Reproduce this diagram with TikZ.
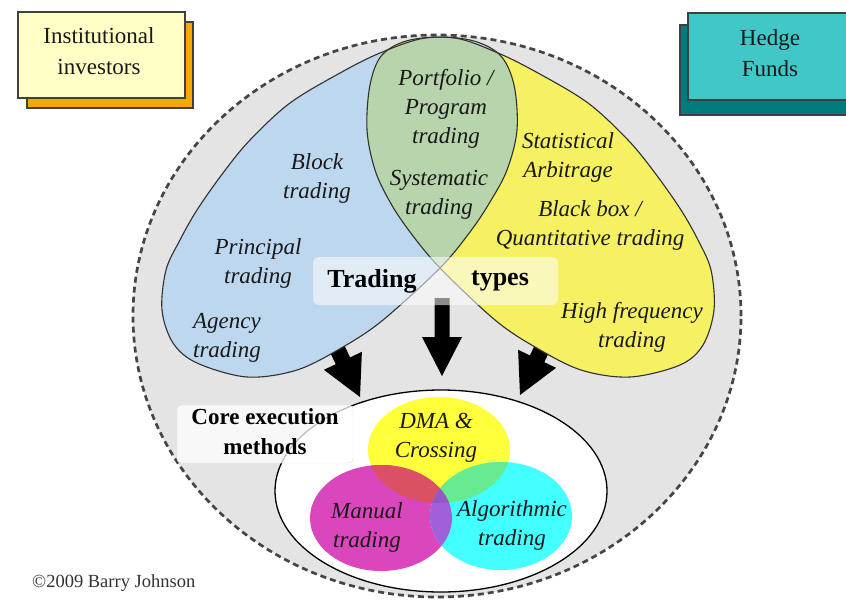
\documentclass[tikz,border=0pt]{standalone}
\usepackage{fontspec}
\setmainfont{Liberation Serif}
\definecolor{outergray}{HTML}{E4E4E4}
\definecolor{dashgray}{HTML}{454545}
\definecolor{lensblue}{HTML}{BDD7EE}
\definecolor{lensyellow}{HTML}{F5F163}
\definecolor{lensgreen}{HTML}{B8D4AC}
\definecolor{edgegray}{HTML}{303030}
\definecolor{instfront}{HTML}{FFFFC6}
\definecolor{instshadow}{HTML}{F5A800}
\definecolor{hedgefront}{HTML}{40C8C8}
\definecolor{hedgeshadow}{HTML}{007C7C}
\definecolor{cY}{HTML}{FFFF3C}
\definecolor{cM}{HTML}{DA46BC}
\definecolor{cC}{HTML}{44FFFF}
\definecolor{cYM}{HTML}{DC5064}
\definecolor{cYC}{HTML}{66EB90}
\definecolor{cMC}{HTML}{A060D8}
\definecolor{cYMC}{HTML}{9458C4}
\newcommand\itxt{\fontsize{23}{29}\selectfont\itshape}
\newcommand\rmtxt{\fontsize{23}{31}\selectfont}
\newcommand\bftxt{\fontsize{23}{30}\selectfont\bfseries}
\def\bluepath{plot[smooth cycle, tension=0.55] coordinates {(440,268) (470,232) (490,202) (507,170) (517,130) (514,85) (500,55) (470,40) (425,38) (380,53) (340,73) (290,103) (250,140) (223,173) (197,210) (180,240) (166,270) (162,310) (173,343) (197,363) (247,377) (297,370) (343,347) (383,320)}}
\def\yellowpath{plot[smooth cycle, tension=0.55] coordinates {(440,268) (410,232) (390,202) (375,170) (367,130) (370,85) (382,55) (410,40) (455,38) (498,53) (538,73) (588,103) (628,140) (655,173) (681,210) (698,240) (711,270) (714,310) (703,345) (680,365) (630,377) (581,370) (535,347) (495,320)}}
\tikzset{
  itlabel/.style={font=\itxt, align=center, inner sep=0pt, text=black!90},
  rmlabel/.style={font=\rmtxt, align=center, inner sep=0pt, text=black!90},
  bflabel/.style={font=\bftxt, align=center, inner sep=0pt, text=black},
  lensedge/.style={draw=edgegray, line width=1.1pt},
  blockarrow/.style={fill=black},
  boxedge/.style={draw=black!75, line width=1.2pt}
}
\begin{document}
\begin{tikzpicture}[x=1pt,y=-1pt]
\useasboundingbox (0,0) rectangle (846,600);
\fill[white] (0,0) rectangle (846,600);

% outer dashed region
\path[fill=outergray, draw=dashgray, line width=2.7pt, dash pattern=on 6pt off 4pt]
  (437,316) ellipse [x radius=304pt, y radius=281pt];

% block arrows
\fill[blockarrow] (434.5,298) -- (449.5,298) -- (449.5,337) -- (462,337) -- (442,376) -- (422,337) -- (434.5,337) -- cycle;
\fill[blockarrow] (318.6,328.0) -- (333.0,321.2) -- (350.1,357.4) -- (361.9,351.8) -- (360,397) -- (323.9,369.8) -- (335.7,364.2) -- cycle;
\fill[blockarrow] (547.0,319.2) -- (561.4,326.0) -- (544.3,362.2) -- (556.1,367.8) -- (520,395) -- (518.1,349.8) -- (529.9,355.4) -- cycle;

% trading type lenses
\fill[lensblue] \bluepath;
\fill[lensyellow] \yellowpath;
\begin{scope}
  \clip \yellowpath;
  \fill[lensgreen] \bluepath;
\end{scope}
\draw[lensedge] \bluepath;
\draw[lensedge] \yellowpath;

% lens texts
\node[itlabel] (block) at (317,178) {Block\\trading};
\node[itlabel] (principal) at (258,263) {Principal\\trading};
\node[itlabel] (agency) at (227,338) {Agency\\trading};
\node[itlabel] (portfolio) at (446,109) {Portfolio /\\Program\\trading};
\node[itlabel] (systematic) at (439,195) {Systematic\\trading};
\node[itlabel] (statarb) at (568,157) {Statistical\\Arbitrage};
\node[itlabel] (blackbox) at (590,225) {Black box /\\Quantitative trading};
\node[itlabel] (hft) at (632,327) {High frequency\\trading};

% trading types label
\path[fill=white, fill opacity=0.55, rounded corners=6pt] (313,257) rectangle (558,305);
\node[bflabel, font=\fontsize{26}{30}\selectfont\bfseries] (trading) at (372,281) {Trading};
\node[bflabel, font=\fontsize{26}{30}\selectfont\bfseries] (types) at (500,281) {types};

% core execution region
\path[fill=white, draw=black, line width=1.3pt] (441,491) ellipse [x radius=166pt, y radius=101pt];
\fill[cY] (439,450) ellipse [x radius=71pt, y radius=53pt];
\fill[cM] (381,518) ellipse [x radius=71pt, y radius=53pt];
\fill[cC] (501,516) ellipse [x radius=71pt, y radius=54pt];
\begin{scope}
  \clip (439,450) ellipse [x radius=71pt, y radius=53pt];
  \fill[cYM] (381,518) ellipse [x radius=71pt, y radius=53pt];
  \fill[cYC] (501,516) ellipse [x radius=71pt, y radius=54pt];
\end{scope}
\begin{scope}
  \clip (381,518) ellipse [x radius=71pt, y radius=53pt];
  \fill[cMC] (501,516) ellipse [x radius=71pt, y radius=54pt];
  \clip (501,516) ellipse [x radius=71pt, y radius=54pt];
  \fill[cYMC] (439,450) ellipse [x radius=71pt, y radius=53pt];
\end{scope}
\node[itlabel] (dma) at (436,438) {DMA \&\\Crossing};
\node[itlabel] (manual) at (367,527) {Manual\\trading};
\node[itlabel] (algo) at (512,525) {Algorithmic\\trading};

\path[fill=white, fill opacity=0.75, draw=black!12, rounded corners=4pt] (177,405) rectangle (353,463);
\node[bflabel] (core) at (265,432) {Core execution\\methods};

% corner boxes
\path[fill=instshadow, boxedge] (27,22) rectangle (193,108);
\path[fill=instfront, boxedge] (18,12) rectangle (185,98);
\node[rmlabel] (inst) at (99,51) {Institutional\\investors};
\path[fill=hedgeshadow, boxedge] (680,25) rectangle (852,115);
\path[fill=hedgefront, boxedge] (688,13) rectangle (852,100);
\node[rmlabel] (hedge) at (770,53) {Hedge\\Funds};

\node[font=\fontsize{18.5}{20}\selectfont, inner sep=0pt, text=black!80, anchor=west] (copy) at (32,583) {©2009 Barry Johnson};
\end{tikzpicture}
\end{document}
